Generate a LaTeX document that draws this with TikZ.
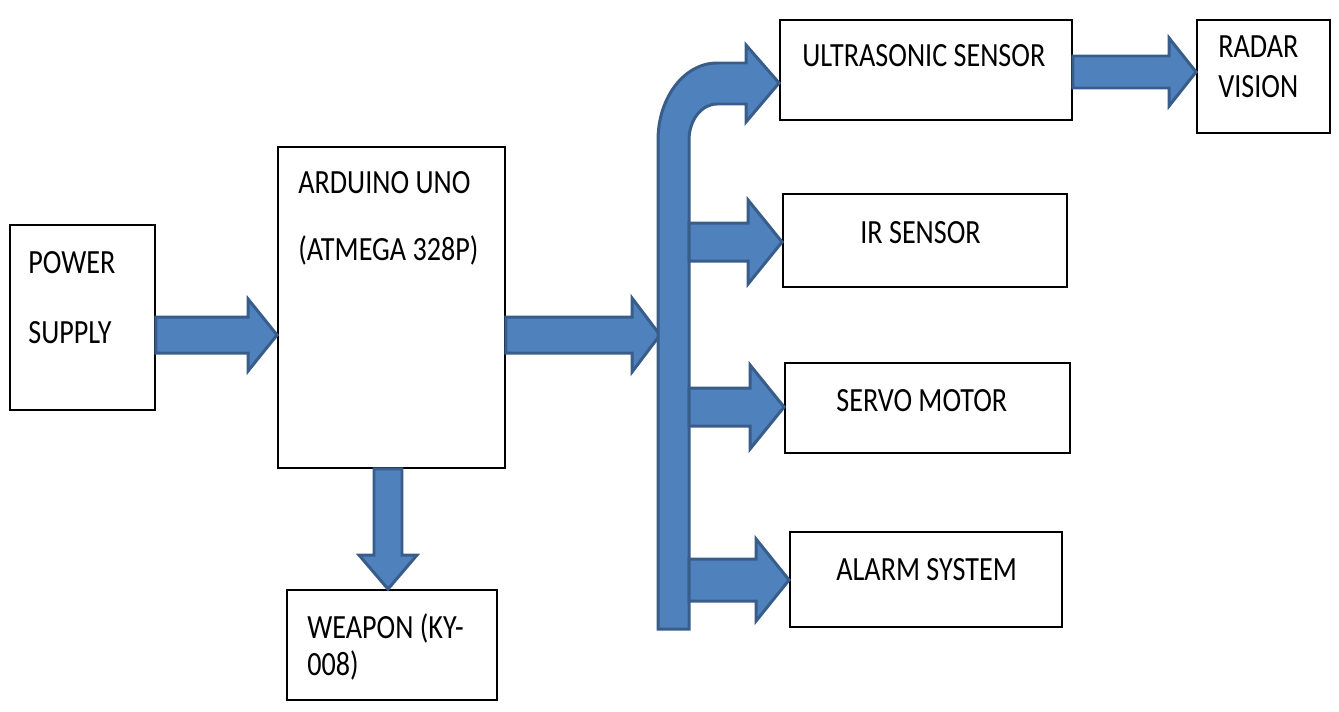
\documentclass[tikz,border=0pt]{standalone}
\usepackage{fontspec}
\setmainfont{Carlito}[FakeStretch=0.83]
\usetikzlibrary{calc}
\definecolor{arrfill}{RGB}{79,129,189}
\definecolor{arrline}{RGB}{56,93,138}

% block arrow to the right: from, tip, half shaft, half head, head length
\newcommand{\rblk}[5]{\filldraw[blk] ($(#1 |- #2)+(0,-#3)$) -- ($(#2)+(-#5,-#3)$) -- ($(#2)+(-#5,-#4)$) -- (#2) -- ($(#2)+(-#5,#4)$) -- ($(#2)+(-#5,#3)$) -- ($(#1 |- #2)+(0,#3)$) -- cycle;}
% block arrow downwards
\newcommand{\dblk}[5]{\filldraw[blk] ($(#2 |- #1)+(-#3,0)$) -- ($(#2)+(-#3,-#5)$) -- ($(#2)+(-#4,-#5)$) -- (#2) -- ($(#2)+(#4,-#5)$) -- ($(#2)+(#3,-#5)$) -- ($(#2 |- #1)+(#3,0)$) -- cycle;}

\begin{document}
\begin{tikzpicture}[x=0.02cm,y=-0.02cm,
    box/.style={draw,rectangle,line width=1.1pt,inner sep=0pt},
    lbl/.style={anchor=base west,inner sep=0pt,font=\fontsize{19.3}{22}\selectfont},
    blk/.style={fill=arrfill,draw=arrline,line width=1.7pt}]
            \useasboundingbox (0,0) rectangle (1339,711);

            \node (pwr) at (82.5,317.5) [box,minimum width=2.9cm,minimum height=3.7cm] {};
            \node (ard) at (391.5,307.5) [box,minimum width=4.54cm,minimum height=6.42cm] {};
            \node (wpn) at (392,645) [box,minimum width=4.2cm,minimum height=2.2cm] {};
            \node (us) at (926,70) [box,minimum width=5.84cm,minimum height=2cm] {};
            \node (rad) at (1263.5,76.5) [box,minimum width=2.66cm,minimum height=2.26cm] {};
            \node (ir) at (925,240.5) [box,minimum width=5.68cm,minimum height=1.86cm] {};
            \node (srv) at (927.5,408) [box,minimum width=5.7cm,minimum height=1.8cm] {};
            \node (alm) at (926,579.5) [box,minimum width=5.44cm,minimum height=1.9cm] {};

            \node (pwr1) at (28,273) [lbl] {POWER};
            \node (pwr2) at (28,343) [lbl] {SUPPLY};
            \node (ard1) at (298,193) [lbl] {ARDUINO UNO};
            \node (ard2) at (298,260) [lbl] {(ATMEGA 328P)};
            \node (wpn1) at (307,638) [lbl] {WEAPON (KY-};
            \node (wpn2) at (307,675) [lbl] {008)};
            \node (us1) at (802,66) [lbl] {ULTRASONIC SENSOR};
            \node (rad1) at (1218,57) [lbl] {RADAR};
            \node (rad2) at (1218,97) [lbl] {VISION};
            \node (ir1) at (860,243) [lbl] {IR SENSOR};
            \node (srv1) at (836,411) [lbl] {SERVO MOTOR};
            \node (alm1) at (836,580) [lbl] {ALARM SYSTEM};

            \coordinate (t-pa) at (ard.west |- 0,335);
            \coordinate (t-bus) at (660,335);
            \coordinate (t-wp) at (wpn.north -| 388,0);
            \coordinate (t-us) at (us.west |- 0,83);
            \coordinate (t-rad) at (rad.west |- 0,72);
            \coordinate (t-ir) at (ir.west |- 0,242);
            \coordinate (t-srv) at (srv.west |- 0,407);
            \coordinate (t-alm) at (alm.west |- 0,580);
            \coordinate (bus) at (689,400);

            \rblk{pwr.east}{t-pa}{18}{36}{29}
            \rblk{ard.east}{t-bus}{18}{37}{28}
            \dblk{ard.south}{t-wp}{14}{29}{34}
            \filldraw[blk] (658,629) -- (bus |- 0,629) -- (bus |- 0,140) arc[start angle=180,end angle=270,x radius=28,y radius=36] -- (746,104) -- (746,122) -- (t-us) -- (746,45) -- (746,63) -- (717,63) arc[start angle=270,end angle=180,x radius=59,y radius=77] -- cycle;
            \rblk{bus}{t-ir}{19}{42}{34}
            \rblk{bus}{t-srv}{19}{42}{34}
            \rblk{bus}{t-alm}{21}{41}{33}
            \rblk{us.east}{t-rad}{16}{34}{27}
        \end{tikzpicture}
\end{document}
